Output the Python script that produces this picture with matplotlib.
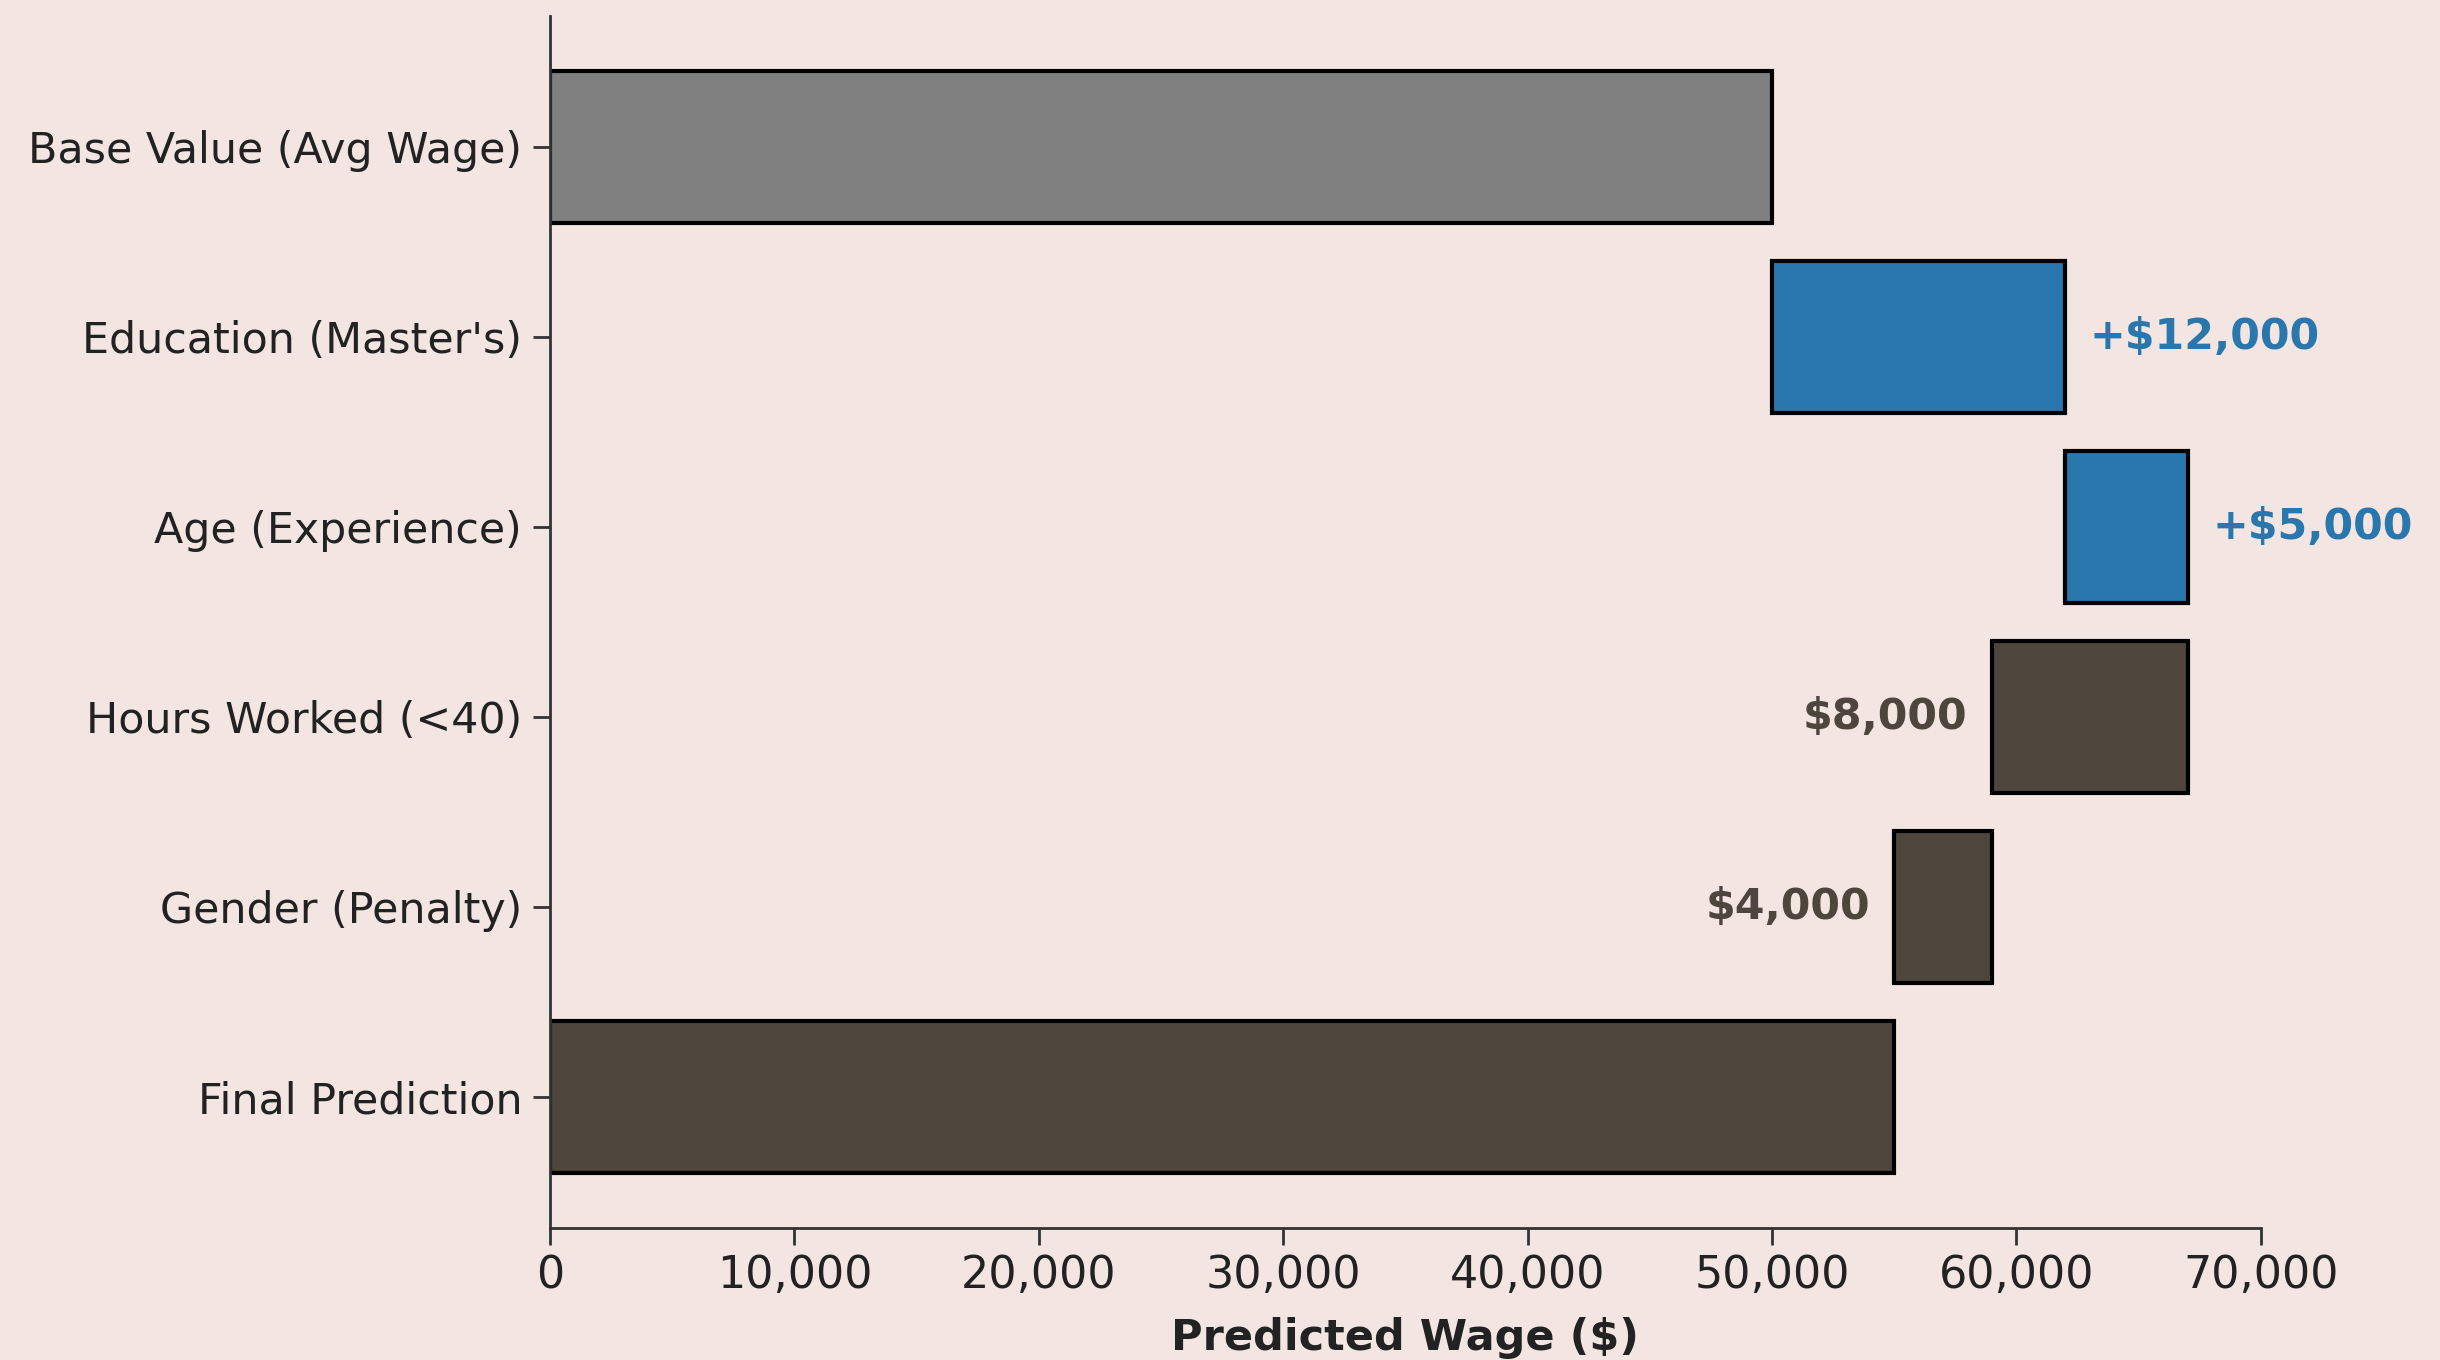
import numpy as np
import matplotlib
matplotlib.use("Agg")
import matplotlib.pyplot as plt

# waterfall data
features = ["Base Value (Avg Wage)", "Education (Master's)", "Age (Experience)",
            "Hours Worked (<40)", "Gender (Penalty)", "Final Prediction"]
base_value = 50000
contributions = [12000, 5000, -8000, -4000]
final_value = base_value + sum(contributions)
bar_labels = ["+$12,000", "+$5,000", "$8,000", "$4,000"]

bg = "#f3e6e2"
pos_color = "#2a77ad"
neg_color = "#4e453d"
base_color = "#808080"

fig = plt.figure(figsize=(12.2, 6.8), dpi=200, facecolor=bg)
ax = fig.add_axes([0.2254, 0.097, 0.7012, 0.8915])
ax.set_facecolor(bg)

y = np.arange(len(features))

# base and final bars
ax.barh(y[0], base_value, height=0.8, color=base_color, edgecolor="black", linewidth=1.5)
ax.barh(y[-1], final_value, height=0.8, color=neg_color, edgecolor="black", linewidth=1.5)

# contribution bars
running = base_value
for i, (c, lab) in enumerate(zip(contributions, bar_labels)):
    yi = y[i + 1]
    col = pos_color if c > 0 else neg_color
    left = running if c > 0 else running + c
    ax.barh(yi, abs(c), left=left, height=0.8, color=col, edgecolor="black", linewidth=1.5)
    if c > 0:
        ax.text(running + c + 1000, yi, lab, ha="left", va="center",
                fontsize=15.4, fontweight="bold", color=pos_color)
    else:
        ax.text(running + c - 1000, yi, lab, ha="right", va="center",
                fontsize=15.4, fontweight="bold", color=neg_color)
    running += c

ax.set_yticks(y)
ax.set_yticklabels(features, fontsize=15.4, color="#222222")
ax.invert_yaxis()
ax.set_xlim(0, 70000)
ax.set_xticks(np.arange(0, 70001, 10000))
ax.set_xticklabels([f"{int(v):,}" for v in np.arange(0, 70001, 10000)], fontsize=16, color="#222222")
ax.set_xlabel("Predicted Wage ($)", fontsize=15.5, fontweight="bold", color="#222222", labelpad=7)

for s in ["top", "right"]:
    ax.spines[s].set_visible(False)
for s in ["left", "bottom"]:
    ax.spines[s].set_linewidth(1.0)
    ax.spines[s].set_color("#333333")
ax.tick_params(axis="both", length=6, width=1.0, color="#333333")
ax.tick_params(axis="y", pad=4)

fig.savefig("out.png", dpi=200, facecolor=bg)
